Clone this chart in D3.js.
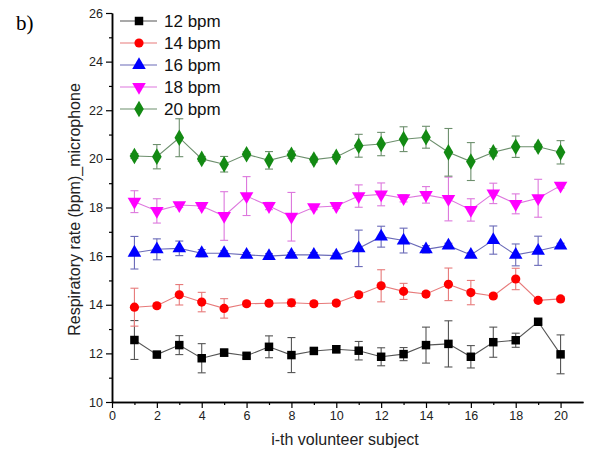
<!DOCTYPE html>
<html>
<head>
<meta charset="utf-8">
<script src="https://cdn.jsdelivr.net/npm/d3@7"></script>
<style>
  body { margin: 0; background: #fff; }
  svg { font-family: "Liberation Sans", Arial, sans-serif; }
</style>
</head>
<body>
<svg id="chart" width="593" height="462"></svg>
<script>
// subjects 1..20
const subjects = d3.range(1, 21);

const seriesNames = ['12 bpm', '14 bpm', '16 bpm', '18 bpm', '20 bpm'];
const seriesColors = ['#000000', '#ff0000', '#0000ff', '#ff00ff', '#138a13'];
const lineColors = ['#555555', '#e77a7a', '#6a6ab8', '#dd77dd', '#6d8f6d'];
const symbols = [d3.symbolSquare, d3.symbolCircle, d3.symbolTriangle, 'down', d3.symbolDiamond];

const mean12 = [12.55, 11.95, 12.34, 11.80, 12.03, 11.90, 12.27, 11.93, 12.10, 12.17,
                12.11, 11.86, 11.97, 12.34, 12.39, 11.86, 12.46, 12.54, 13.30, 11.96];
const err12  = [0.80, 0.10, 0.39, 0.60, 0.15, 0.10, 0.45, 0.72, 0.10, 0.15,
                0.38, 0.37, 0.27, 0.74, 0.95, 0.46, 0.62, 0.29, 0.10, 0.80];

const mean14 = [13.90, 13.96, 14.41, 14.11, 13.85, 14.04, 14.06, 14.08, 14.04, 14.07,
                14.41, 14.78, 14.55, 14.44, 14.84, 14.50, 14.36, 15.06, 14.18, 14.24];
const err14  = [0.78, 0.10, 0.42, 0.40, 0.40, 0.10, 0.10, 0.15, 0.10, 0.10,
                0.10, 0.66, 0.33, 0.10, 0.67, 0.50, 0.10, 0.44, 0.10, 0.10];

const mean16 = [16.14, 16.28, 16.32, 16.12, 16.12, 16.05, 16.00, 16.05, 16.05, 16.02,
                16.32, 16.80, 16.64, 16.28, 16.43, 16.05, 16.66, 16.05, 16.22, 16.43];
const err16  = [0.67, 0.43, 0.30, 0.15, 0.10, 0.10, 0.10, 0.10, 0.10, 0.10,
                0.75, 0.43, 0.51, 0.15, 0.10, 0.10, 0.58, 0.45, 0.60, 0.10];

const mean18 = [18.24, 17.86, 18.10, 18.06, 17.65, 18.47, 18.06, 17.62, 18.01, 18.06,
                18.47, 18.54, 18.38, 18.52, 18.35, 17.90, 18.58, 18.15, 18.38, 18.90];
const err18  = [0.45, 0.50, 0.10, 0.10, 1.00, 0.80, 0.15, 1.00, 0.10, 0.10,
                0.46, 0.47, 0.15, 0.34, 0.90, 0.46, 0.42, 0.41, 0.78, 0.10];

const mean20 = [20.12, 20.09, 20.87, 20.00, 19.78, 20.19, 19.94, 20.17, 19.97, 20.08,
                20.54, 20.61, 20.81, 20.89, 20.27, 19.89, 20.27, 20.50, 20.50, 20.27];
const err20  = [0.10, 0.50, 0.78, 0.10, 0.32, 0.10, 0.36, 0.15, 0.10, 0.10,
                0.47, 0.48, 0.51, 0.45, 0.98, 0.78, 0.15, 0.44, 0.10, 0.48];

const means = [mean12, mean14, mean16, mean18, mean20];
const errs = [err12, err14, err16, err18, err20];

const xTicks = d3.range(0, 21, 2);
const yTicks = d3.range(10, 27, 2);

const svg = d3.select('#chart');
const plotLeft = 112, plotRight = 583, plotTop = 13, plotBottom = 402;

const x = d3.scaleLinear().domain([0, 21]).range([plotLeft, plotRight]);
const y = d3.scaleLinear().domain([10, 26]).range([plotBottom, plotTop]);

// axes
const xAxis = d3.axisBottom(x).tickValues(xTicks).tickSize(6).tickSizeOuter(0).tickPadding(3).tickFormat(d3.format('d'));
const xMinor = d3.axisBottom(x).tickValues(d3.range(1, 21, 2)).tickSize(3).tickSizeOuter(0).tickFormat('');
const yAxis = d3.axisLeft(y).tickValues(yTicks).tickSize(6).tickSizeOuter(0).tickPadding(3).tickFormat(d3.format('d'));
const yMinor = d3.axisLeft(y).tickValues(d3.range(11, 26, 2)).tickSize(3).tickSizeOuter(0).tickFormat('');

function styleAxis(g) {
  g.select('.domain').attr('stroke', '#000').attr('stroke-width', 1.5);
  g.selectAll('.tick line').attr('stroke', '#000').attr('stroke-width', 1.2);
  g.selectAll('.tick text').attr('fill', '#222').style('font-size', '12.5px');
}

svg.append('g').attr('transform', `translate(0,${plotBottom})`).call(xMinor).call(styleAxis);
svg.append('g').attr('transform', `translate(0,${plotBottom})`).call(xAxis).call(styleAxis);
svg.append('g').attr('transform', `translate(${plotLeft},0)`).call(yMinor).call(styleAxis);
svg.append('g').attr('transform', `translate(${plotLeft},0)`).call(yAxis).call(styleAxis);

// titles
svg.append('text')
  .attr('x', 345).attr('y', 445)
  .attr('text-anchor', 'middle')
  .style('font-size', '16px').attr('fill', '#222')
  .text('i-th volunteer subject');

svg.append('text')
  .attr('transform', `translate(80,${y(18) + 2}) rotate(-90)`)
  .attr('text-anchor', 'middle')
  .style('font-size', '16px').attr('fill', '#222')
  .text('Respiratory rate (bpm)_microphone');

svg.append('text')
  .attr('x', 16).attr('y', 30)
  .style('font-family', '"Liberation Serif", "Times New Roman", serif')
  .style('font-size', '21px')
  .text('b)');

function marker(sel, i, size) {
  if (symbols[i] === 'down') {
    sel.attr('d', d3.symbol(d3.symbolTriangle).size(size)())
      .attr('transform', function () { return d3.select(this).attr('transform') + ' rotate(180)'; });
  } else {
    sel.attr('d', d3.symbol(symbols[i]).size(size)());
  }
}

const symSize = [72, 66, 80, 80, 80];

means.forEach((vals, i) => {
  const data = subjects.map((s, k) => ({ s, v: vals[k], e: errs[i][k] }));
  const g = svg.append('g');

  // error bars
  const eb = g.selectAll('.eb').data(data).enter().append('g')
    .attr('stroke', lineColors[i]).attr('stroke-width', 1.1).attr('fill', 'none');
  eb.append('line')
    .attr('x1', d => x(d.s)).attr('x2', d => x(d.s))
    .attr('y1', d => y(d.v - d.e)).attr('y2', d => y(d.v + d.e));
  eb.append('line')
    .attr('x1', d => x(d.s) - 4).attr('x2', d => x(d.s) + 4)
    .attr('y1', d => y(d.v + d.e)).attr('y2', d => y(d.v + d.e));
  eb.append('line')
    .attr('x1', d => x(d.s) - 4).attr('x2', d => x(d.s) + 4)
    .attr('y1', d => y(d.v - d.e)).attr('y2', d => y(d.v - d.e));

  // connecting line
  g.append('path').datum(data)
    .attr('fill', 'none').attr('stroke', lineColors[i]).attr('stroke-width', 1.1)
    .attr('d', d3.line().x(d => x(d.s)).y(d => y(d.v)));

  // markers
  g.selectAll('.m').data(data).enter().append('path')
    .attr('transform', d => `translate(${x(d.s)},${y(d.v)})`)
    .attr('fill', seriesColors[i])
    .call(marker, i, symSize[i]);
});

// legend
const legY = [21, 43, 65, 87, 109];
seriesNames.forEach((name, i) => {
  const g = svg.append('g').attr('transform', `translate(0,${legY[i]})`);
  g.append('line').attr('x1', 120).attr('x2', 157).attr('y1', 0).attr('y2', 0)
    .attr('stroke', lineColors[i]).attr('stroke-width', 1.1);
  g.append('path').attr('transform', 'translate(139,0)').attr('fill', seriesColors[i])
    .call(marker, i, symSize[i]);
  g.append('text').attr('x', 164).attr('y', 6)
    .style('font-size', '17px').attr('fill', '#111')
    .text(name);
});
</script>
</body>
</html>
